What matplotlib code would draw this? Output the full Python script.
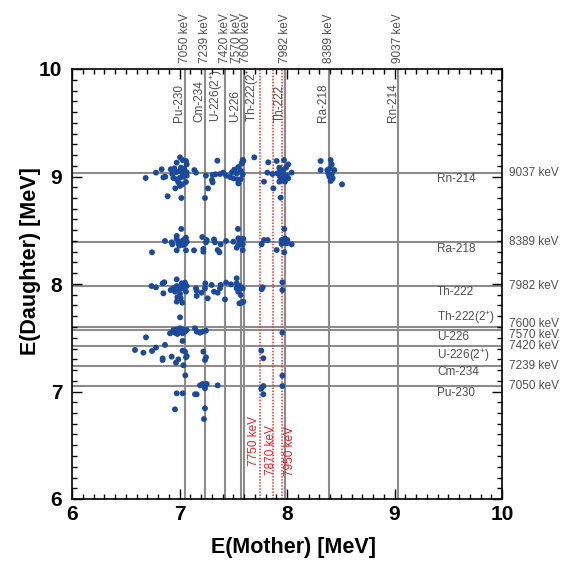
import matplotlib
matplotlib.use("Agg")
import matplotlib.pyplot as plt
from matplotlib.ticker import MultipleLocator

plt.rcParams['font.family'] = ['Liberation Sans', 'DejaVu Sans']
plt.rcParams['mathtext.default'] = 'regular'

# Alpha lines (keV) and the nuclide each one belongs to
line_kev = [7050, 7239, 7420, 7570, 7600, 7982, 8389, 9037]
line_names = ['Pu-230', 'Cm-234', 'U-226(2$^{+}$)', 'U-226',
              'Th-222(2$^{+}$)', 'Th-222', 'Ra-218', 'Rn-214']
# Reference energies drawn as dotted red lines (keV)
ref_kev = [7750, 7870, 7950]

# Coincidence events: mother energy (MeV)
mother_mev = [
    # Rn-214 band
    7.005, 7.029, 7.060, 6.974, 7.067, 7.014, 7.045, 6.918, 6.952, 6.834,
    6.781, 6.685, 6.850, 6.868, 6.933, 6.967, 6.998, 7.026, 7.067, 7.067,
    7.036, 7.005, 6.974, 6.943, 6.989, 7.026, 7.060, 6.961, 7.005, 6.890,
    7.017, 7.138, 7.153, 7.352, 7.246, 7.308, 7.333, 7.377, 7.408, 7.433,
    7.470, 7.501, 7.538, 7.547, 7.569, 7.510, 7.547, 7.581, 7.594, 7.302,
    7.308, 7.265, 7.237, 7.488, 7.532, 7.563,
    7.588, 7.578, 7.572, 7.588, 7.696, 7.826, 7.904, 7.972, 8.012, 7.929,
    7.960, 7.991, 7.935, 7.966, 7.910, 7.817, 7.864, 8.043, 7.935, 7.966,
    8.012, 7.950, 7.981, 7.929, 7.786, 7.873, 7.941, 8.313, 8.406, 8.416,
    8.313, 8.375, 8.400, 8.440, 8.384, 8.416, 8.394, 8.425, 8.406, 8.512,
    7.960, 7.997,
    # Ra-218 band
    7.017, 6.974, 6.974, 6.865, 6.927, 6.933, 6.989, 7.014, 7.036, 7.060,
    7.067, 7.029, 7.051, 6.998, 6.744, 6.974, 7.060, 7.135, 7.212, 7.253,
    7.246, 7.222, 7.222, 7.321, 7.330, 7.383, 7.355, 7.371, 7.433, 7.501,
    7.547, 7.544, 7.563, 7.547, 7.532, 7.588, 7.594, 7.054,
    7.572, 7.578, 7.588, 7.786, 7.820, 7.764, 7.975, 7.950, 7.981, 8.003,
    7.966, 7.997, 7.950, 8.043, 7.904, 7.975,
    # Th-222 band
    6.741, 6.781, 6.843, 6.859, 6.850, 6.918, 6.943, 6.974, 6.974, 6.998,
    7.020, 7.036, 7.051, 7.060, 6.958, 7.005, 6.980, 7.011, 6.974, 7.026,
    7.005, 7.067, 7.020, 7.153, 7.160, 7.206, 7.160, 7.240, 7.237, 7.262,
    7.299, 7.321, 7.355, 7.383, 7.377, 7.423, 7.433, 7.479, 7.532, 7.532,
    7.532, 7.547, 7.563, 7.588, 7.569, 7.578, 7.594, 7.557, 7.774, 7.764,
    7.957, 7.957,
    # U-226 / Cm-234 / Pu-230 region
    6.943, 6.958, 6.974, 6.989, 7.005, 7.020, 7.036, 7.051, 7.067, 6.980,
    7.029, 6.912, 7.144, 7.160, 7.191, 7.215, 7.246, 6.688, 6.865, 6.781,
    6.744, 6.664, 6.586, 7.029, 7.029, 7.051, 6.927, 6.843, 6.843, 6.989,
    6.967, 7.060, 7.067, 7.036, 7.222, 7.246, 7.237, 7.054, 7.191, 7.215,
    7.237, 7.253, 7.237, 7.355, 6.974, 7.029, 7.144, 7.160, 7.237, 6.958,
    7.228,
    7.957, 7.761, 7.780, 7.957, 7.957, 7.761, 7.780, 7.780,
]

# Coincidence events: daughter energy (MeV)
daughter_mev = [
    # Rn-214 band
    9.178, 9.153, 9.144, 9.129, 9.113, 9.082, 9.070, 9.067, 9.076, 9.067,
    9.036, 8.986, 8.992, 8.998, 9.023, 9.039, 9.051, 9.036, 9.039, 9.008,
    8.998, 8.989, 8.974, 8.986, 8.946, 8.927, 8.949, 8.890, 8.912, 8.816,
    8.800, 9.060, 9.036, 9.147, 9.008, 9.014, 9.020, 9.023, 9.036, 9.008,
    8.995, 8.983, 8.974, 8.936, 8.974, 9.064, 9.088, 9.122, 9.147, 8.967,
    8.946, 8.890, 8.800, 9.039, 9.029, 9.045,
    9.153, 9.122, 9.051, 9.020, 9.178, 9.132, 9.144, 9.153, 9.113, 9.082,
    9.060, 9.082, 9.045, 9.029, 9.029, 9.036, 9.023, 9.036, 8.998, 8.989,
    8.983, 8.967, 8.952, 8.952, 8.952, 8.890, 8.803, 9.144, 9.153, 9.113,
    9.060, 9.060, 9.076, 9.060, 9.029, 9.020, 8.998, 8.983, 8.958, 8.927,
    9.014, 9.008,
    # Ra-218 band
    8.512, 8.447, 8.419, 8.400, 8.388, 8.369, 8.378, 8.394, 8.409, 8.431,
    8.394, 8.363, 8.369, 8.357, 8.295, 8.313, 8.313, 8.313, 8.437, 8.409,
    8.388, 8.326, 8.301, 8.415, 8.388, 8.369, 8.316, 8.295, 8.400, 8.394,
    8.425, 8.512, 8.394, 8.363, 8.338, 8.369, 8.419, 8.416,
    8.415, 8.378, 8.316, 8.409, 8.409, 8.369, 8.512, 8.409, 8.425, 8.409,
    8.388, 8.378, 8.372, 8.369, 8.316, 8.295,
    # Th-222 band
    7.981, 7.969, 8.006, 8.016, 7.913, 7.944, 7.960, 8.043, 7.981, 7.951,
    8.006, 7.969, 8.013, 7.929, 7.929, 7.907, 7.876, 7.867, 7.836, 7.826,
    7.690, 7.981, 7.960, 7.960, 7.938, 7.919, 7.889, 8.006, 7.960, 7.867,
    7.991, 7.929, 7.919, 7.991, 7.960, 7.857, 8.013, 7.997, 8.053, 8.006,
    7.960, 7.929, 7.981, 7.960, 7.898, 7.826, 7.836, 7.820, 7.969, 7.951,
    8.016, 7.944,
    # U-226 / Cm-234 / Pu-230 region
    7.572, 7.547, 7.578, 7.557, 7.588, 7.566, 7.578, 7.557, 7.572, 7.535,
    7.541, 7.541, 7.588, 7.557, 7.547, 7.557, 7.566, 7.504, 7.433, 7.408,
    7.377, 7.361, 7.386, 7.470, 7.380, 7.371, 7.324, 7.308, 7.293, 7.299,
    7.268, 7.318, 7.330, 7.244, 7.371, 7.318, 7.293, 7.150, 7.057, 7.070,
    7.051, 7.070, 7.030, 7.057, 6.983, 6.983, 6.974, 6.974, 6.844, 6.834,
    6.744,
    7.547, 7.380, 7.309, 7.147, 7.051, 7.026, 7.051, 6.974,
]

LINE_GREY = '#8c8c8c'
TEXT_GREY = '#505050'

fig = plt.figure(figsize=(5.68, 5.63), dpi=100)
ax = fig.add_axes([72 / 568, 64 / 563, 430 / 568, 430 / 563])
ax.set_xlim(6, 10)
ax.set_ylim(6, 10)

for e in line_kev:
    ax.axvline(e / 1000, color=LINE_GREY, lw=1.5, zorder=1)
    ax.axhline(e / 1000, color=LINE_GREY, lw=1.5, zorder=1)

for e in ref_kev:
    ax.axvline(e / 1000, color='#ff2a2a', lw=1.1, ls=(0, (1, 1)), zorder=1)

ax.scatter(mother_mev, daughter_mev, s=18, color='#1b4a9c',
           edgecolors='none', zorder=3)

# Energy labels above the frame and to the right of it
top_shift = {7570: -0.036, 7600: 0.020}
right_shift = {7570: -0.04, 7600: 0.028}
for e, name in zip(line_kev, line_names):
    x = e / 1000
    ax.text(x + top_shift.get(e, 0.0), 10.055, f'{e} keV', rotation=90,
            ha='center', va='bottom', fontsize=8.5, color=TEXT_GREY,
            clip_on=False)
    ax.text(10.065, x + right_shift.get(e, 0.0), f'{e} keV',
            ha='left', va='center', fontsize=8.5, color=TEXT_GREY,
            clip_on=False)
    # nuclide names along each line
    if e == 7600:
        ax.text(x + 0.006, 9.507, name, rotation=90, ha='left', va='bottom',
                fontsize=8.5, color=TEXT_GREY, clip_on=True, zorder=4)
        ax.text(9.395, x + 0.012, name, ha='left', va='bottom',
                fontsize=8.5, color=TEXT_GREY, zorder=4)
    else:
        ax.text(x + 0.004, 9.507, name, rotation=90, ha='right', va='bottom',
                fontsize=8.5, color=TEXT_GREY, clip_on=True, zorder=4)
        ax.text(9.395, x - 0.004, name, ha='left', va='top',
                fontsize=8.5, color=TEXT_GREY, zorder=4)

ref_label_pos = {7750: (7.693, 6.775), 7870: (7.848, 6.685), 7950: (8.028, 6.680)}
for e in ref_kev:
    lx, ly = ref_label_pos[e]
    ax.text(lx, ly, f'{e} keV', rotation=90, ha='center', va='top',
            fontsize=8.5, color='#ee1c1c', zorder=4)

ax.xaxis.set_major_locator(MultipleLocator(1))
ax.yaxis.set_major_locator(MultipleLocator(1))
ax.xaxis.set_minor_locator(MultipleLocator(0.1))
ax.yaxis.set_minor_locator(MultipleLocator(0.1))
ax.tick_params(which='both', direction='in', top=True, right=True,
               width=1.0, color='black')
ax.tick_params(which='major', length=7.5)
ax.tick_params(which='minor', length=3.8)
ax.tick_params(axis='x', which='major', pad=4, labelsize=15)
ax.tick_params(axis='y', which='major', pad=7, labelsize=15)
for lab in ax.get_xticklabels() + ax.get_yticklabels():
    lab.set_fontweight('bold')

for sp in ax.spines.values():
    sp.set_linewidth(1.2)

ax.set_xlabel('E(Mother) [MeV]', fontsize=15.5, fontweight='bold')
ax.set_ylabel('E(Daughter) [MeV]', fontsize=15.5, fontweight='bold')
ax.xaxis.set_label_coords(0.515, -0.088)
ax.yaxis.set_label_coords(-0.072, 0.553)

fig.savefig('out.png', dpi=100)
